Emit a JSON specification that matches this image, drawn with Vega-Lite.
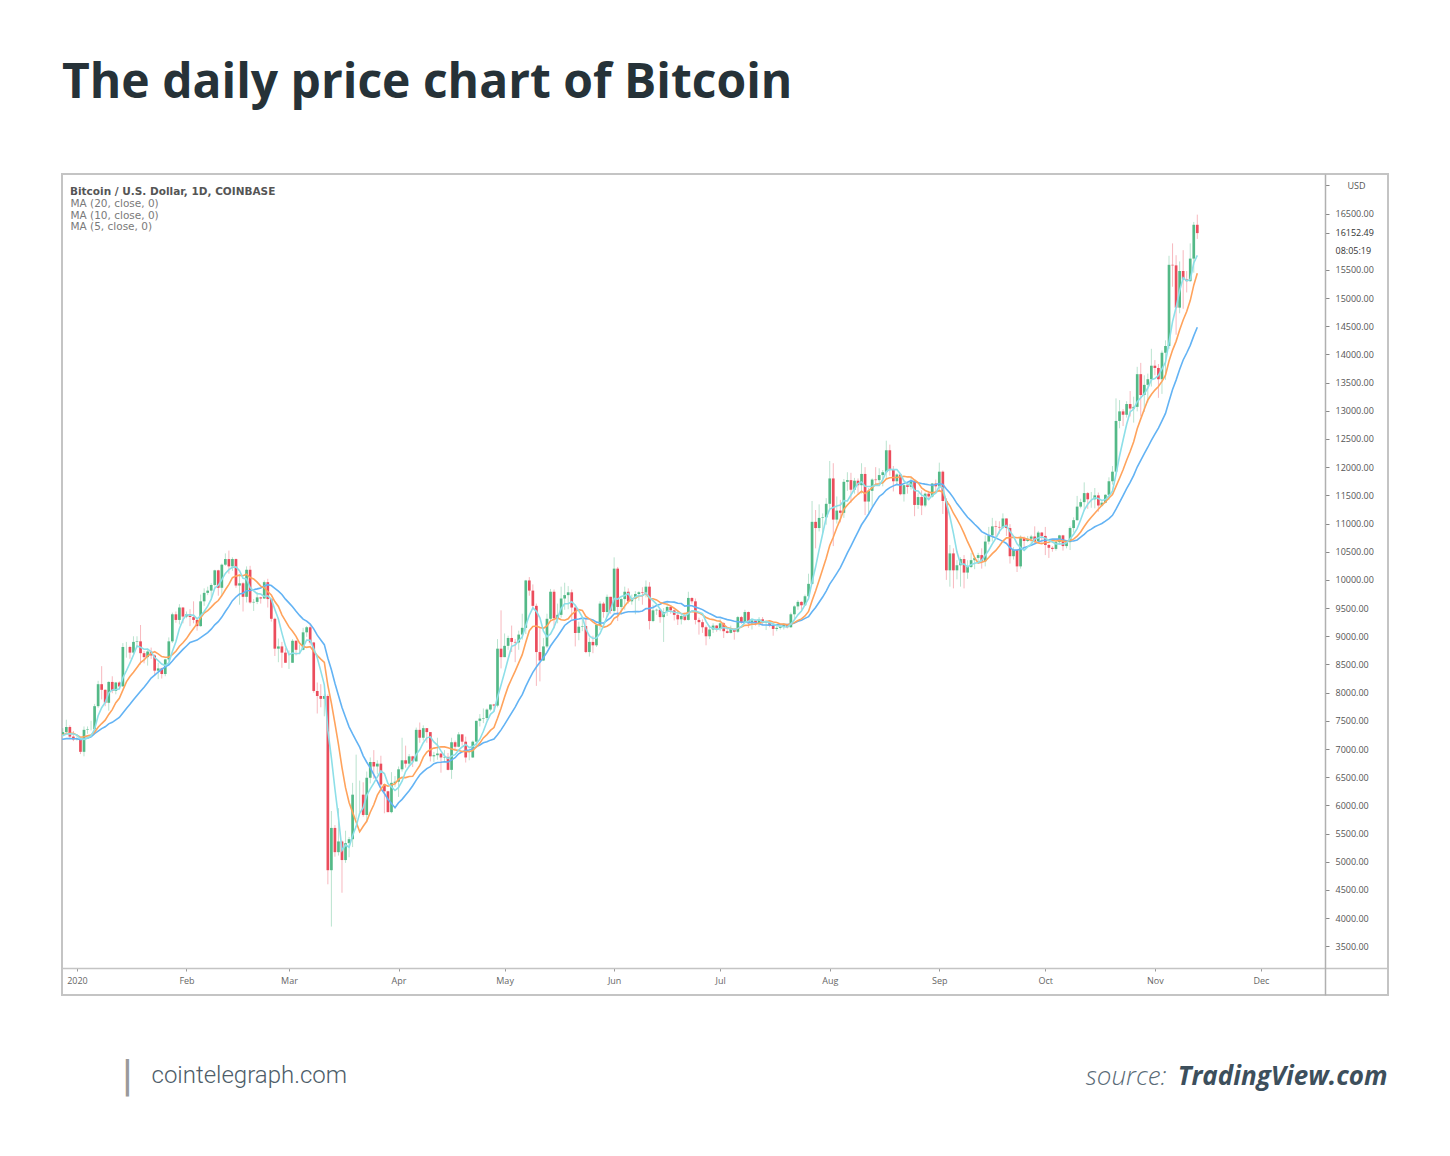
{
  "$schema": "https://vega.github.io/schema/vega-lite/v6.json",
  "autosize": {"type": "none"},
  "width": 1326,
  "height": 821,
  "padding": {"left": 62, "top": 174, "right": 62, "bottom": 161},
  "background": "white",
  "title": {"text": "The daily price chart of Bitcoin", "anchor": "start", "frame": "group", "font": "Open Sans", "fontSize": 48, "fontWeight": 700, "color": "#263238", "offset": 28, "baseline": "alphabetic"},
  "config": {
    "font": "Open Sans",
    "axis": {"grid": false},
    "view": {"stroke": "#c4c4c4", "strokeWidth": 2}
  },
  "data": {"values": [
{"d":"2019-12-10","o":7340,"h":7390,"l":7170,"c":7220},
{"d":"2019-12-11","o":7220,"h":7270,"l":7130,"c":7200},
{"d":"2019-12-12","o":7200,"h":7230,"l":7080,"c":7190},
{"d":"2019-12-13","o":7190,"h":7300,"l":7190,"c":7250},
{"d":"2019-12-14","o":7250,"h":7270,"l":7030,"c":7060},
{"d":"2019-12-15","o":7060,"h":7180,"l":7020,"c":7110},
{"d":"2019-12-16","o":7110,"h":7150,"l":6850,"c":6880},
{"d":"2019-12-17","o":6880,"h":6940,"l":6560,"c":6610},
{"d":"2019-12-18","o":6610,"h":7440,"l":6430,"c":7280},
{"d":"2019-12-19","o":7280,"h":7370,"l":7040,"c":7150},
{"d":"2019-12-20","o":7150,"h":7220,"l":7100,"c":7190},
{"d":"2019-12-21","o":7190,"h":7200,"l":7110,"c":7140},
{"d":"2019-12-22","o":7140,"h":7520,"l":7130,"c":7510},
{"d":"2019-12-23","o":7510,"h":7690,"l":7260,"c":7320},
{"d":"2019-12-24","o":7320,"h":7440,"l":7160,"c":7250},
{"d":"2019-12-25","o":7250,"h":7270,"l":7130,"c":7200},
{"d":"2019-12-26","o":7200,"h":7440,"l":7160,"c":7190},
{"d":"2019-12-27","o":7190,"h":7270,"l":7060,"c":7250},
{"d":"2019-12-28","o":7250,"h":7370,"l":7240,"c":7300},
{"d":"2019-12-29","o":7300,"h":7520,"l":7280,"c":7390},
{"d":"2019-12-30","o":7390,"h":7420,"l":7190,"c":7220},
{"d":"2019-12-31","o":7220,"h":7320,"l":7140,"c":7170},
{"d":"2020-01-01","o":7170,"h":7250,"l":7150,"c":7175},
{"d":"2020-01-02","o":7175,"h":7190,"l":6910,"c":6950},
{"d":"2020-01-03","o":6950,"h":7400,"l":6870,"c":7340},
{"d":"2020-01-04","o":7340,"h":7400,"l":7270,"c":7350},
{"d":"2020-01-05","o":7350,"h":7500,"l":7330,"c":7350},
{"d":"2020-01-06","o":7350,"h":7800,"l":7350,"c":7760},
{"d":"2020-01-07","o":7760,"h":8210,"l":7730,"c":8150},
{"d":"2020-01-08","o":8150,"h":8470,"l":7880,"c":8050},
{"d":"2020-01-09","o":8050,"h":8060,"l":7760,"c":7820},
{"d":"2020-01-10","o":7820,"h":8200,"l":7680,"c":8190},
{"d":"2020-01-11","o":8190,"h":8290,"l":7990,"c":8030},
{"d":"2020-01-12","o":8030,"h":8190,"l":7970,"c":8180},
{"d":"2020-01-13","o":8180,"h":8200,"l":8060,"c":8110},
{"d":"2020-01-14","o":8110,"h":8880,"l":8110,"c":8810},
{"d":"2020-01-15","o":8810,"h":8900,"l":8620,"c":8810},
{"d":"2020-01-16","o":8810,"h":8830,"l":8600,"c":8710},
{"d":"2020-01-17","o":8710,"h":9000,"l":8670,"c":8900},
{"d":"2020-01-18","o":8900,"h":9000,"l":8800,"c":8910},
{"d":"2020-01-19","o":8910,"h":9200,"l":8500,"c":8700},
{"d":"2020-01-20","o":8700,"h":8740,"l":8520,"c":8630},
{"d":"2020-01-21","o":8630,"h":8780,"l":8480,"c":8730},
{"d":"2020-01-22","o":8730,"h":8800,"l":8600,"c":8660},
{"d":"2020-01-23","o":8660,"h":8680,"l":8300,"c":8390},
{"d":"2020-01-24","o":8390,"h":8530,"l":8240,"c":8430},
{"d":"2020-01-25","o":8430,"h":8440,"l":8250,"c":8330},
{"d":"2020-01-26","o":8330,"h":8600,"l":8290,"c":8590},
{"d":"2020-01-27","o":8590,"h":8980,"l":8560,"c":8910},
{"d":"2020-01-28","o":8910,"h":9420,"l":8880,"c":9390},
{"d":"2020-01-29","o":9390,"h":9440,"l":9240,"c":9290},
{"d":"2020-01-30","o":9290,"h":9570,"l":9210,"c":9510},
{"d":"2020-01-31","o":9510,"h":9520,"l":9230,"c":9350},
{"d":"2020-02-01","o":9350,"h":9440,"l":9320,"c":9390},
{"d":"2020-02-02","o":9390,"h":9480,"l":9180,"c":9340},
{"d":"2020-02-03","o":9340,"h":9620,"l":9230,"c":9290},
{"d":"2020-02-04","o":9290,"h":9320,"l":9100,"c":9180},
{"d":"2020-02-05","o":9180,"h":9740,"l":9170,"c":9620},
{"d":"2020-02-06","o":9620,"h":9850,"l":9540,"c":9770},
{"d":"2020-02-07","o":9770,"h":9880,"l":9730,"c":9810},
{"d":"2020-02-08","o":9810,"h":9940,"l":9680,"c":9910},
{"d":"2020-02-09","o":9910,"h":10180,"l":9880,"c":10170},
{"d":"2020-02-10","o":10170,"h":10180,"l":9720,"c":9860},
{"d":"2020-02-11","o":9860,"h":10290,"l":9730,"c":10270},
{"d":"2020-02-12","o":10270,"h":10470,"l":10250,"c":10370},
{"d":"2020-02-13","o":10370,"h":10520,"l":10110,"c":10240},
{"d":"2020-02-14","o":10240,"h":10400,"l":10160,"c":10370},
{"d":"2020-02-15","o":10370,"h":10380,"l":9860,"c":9900},
{"d":"2020-02-16","o":9900,"h":10100,"l":9560,"c":9940},
{"d":"2020-02-17","o":9940,"h":9960,"l":9440,"c":9700},
{"d":"2020-02-18","o":9700,"h":10240,"l":9600,"c":10180},
{"d":"2020-02-19","o":10180,"h":10250,"l":9580,"c":9600},
{"d":"2020-02-20","o":9600,"h":9660,"l":9450,"c":9610},
{"d":"2020-02-21","o":9610,"h":9780,"l":9570,"c":9690},
{"d":"2020-02-22","o":9690,"h":9700,"l":9580,"c":9670},
{"d":"2020-02-23","o":9670,"h":9990,"l":9660,"c":9960},
{"d":"2020-02-24","o":9960,"h":10020,"l":9510,"c":9660},
{"d":"2020-02-25","o":9660,"h":9670,"l":9260,"c":9310},
{"d":"2020-02-26","o":9310,"h":9330,"l":8650,"c":8780},
{"d":"2020-02-27","o":8780,"h":8960,"l":8540,"c":8820},
{"d":"2020-02-28","o":8820,"h":8900,"l":8440,"c":8710},
{"d":"2020-02-29","o":8710,"h":8790,"l":8530,"c":8530},
{"d":"2020-03-01","o":8530,"h":8750,"l":8420,"c":8530},
{"d":"2020-03-02","o":8530,"h":8950,"l":8530,"c":8920},
{"d":"2020-03-03","o":8920,"h":8930,"l":8660,"c":8760},
{"d":"2020-03-04","o":8760,"h":8850,"l":8680,"c":8760},
{"d":"2020-03-05","o":8760,"h":9150,"l":8750,"c":9070},
{"d":"2020-03-06","o":9070,"h":9180,"l":8990,"c":9160},
{"d":"2020-03-07","o":9160,"h":9200,"l":8850,"c":8890},
{"d":"2020-03-08","o":8890,"h":8900,"l":8000,"c":8030},
{"d":"2020-03-09","o":8030,"h":8180,"l":7630,"c":7940},
{"d":"2020-03-10","o":7940,"h":8150,"l":7740,"c":7890},
{"d":"2020-03-11","o":7890,"h":7980,"l":7580,"c":7940},
{"d":"2020-03-12","o":7940,"h":7970,"l":4600,"c":4850},
{"d":"2020-03-13","o":4850,"h":5900,"l":3850,"c":5600},
{"d":"2020-03-14","o":5600,"h":5650,"l":5090,"c":5170},
{"d":"2020-03-15","o":5170,"h":5950,"l":5110,"c":5360},
{"d":"2020-03-16","o":5360,"h":5380,"l":4450,"c":5030},
{"d":"2020-03-17","o":5030,"h":5550,"l":4980,"c":5330},
{"d":"2020-03-18","o":5330,"h":5440,"l":5080,"c":5400},
{"d":"2020-03-19","o":5400,"h":6400,"l":5260,"c":6190},
{"d":"2020-03-20","o":6190,"h":6900,"l":5750,"c":6190},
{"d":"2020-03-21","o":6190,"h":6440,"l":5880,"c":6190},
{"d":"2020-03-22","o":6190,"h":6410,"l":5800,"c":5830},
{"d":"2020-03-23","o":5830,"h":6600,"l":5700,"c":6490},
{"d":"2020-03-24","o":6490,"h":6850,"l":6390,"c":6770},
{"d":"2020-03-25","o":6770,"h":6980,"l":6470,"c":6690},
{"d":"2020-03-26","o":6690,"h":6800,"l":6550,"c":6740},
{"d":"2020-03-27","o":6740,"h":6880,"l":6270,"c":6370},
{"d":"2020-03-28","o":6370,"h":6380,"l":5860,"c":6250},
{"d":"2020-03-29","o":6250,"h":6260,"l":5880,"c":5880},
{"d":"2020-03-30","o":5880,"h":6590,"l":5860,"c":6400},
{"d":"2020-03-31","o":6400,"h":6520,"l":6330,"c":6420},
{"d":"2020-04-01","o":6420,"h":6690,"l":6150,"c":6640},
{"d":"2020-04-02","o":6640,"h":7200,"l":6600,"c":6800},
{"d":"2020-04-03","o":6800,"h":7060,"l":6670,"c":6740},
{"d":"2020-04-04","o":6740,"h":6910,"l":6680,"c":6870},
{"d":"2020-04-05","o":6870,"h":6880,"l":6680,"c":6780},
{"d":"2020-04-06","o":6780,"h":7380,"l":6780,"c":7340},
{"d":"2020-04-07","o":7340,"h":7470,"l":7110,"c":7200},
{"d":"2020-04-08","o":7200,"h":7420,"l":7150,"c":7370},
{"d":"2020-04-09","o":7370,"h":7370,"l":7110,"c":7300},
{"d":"2020-04-10","o":7300,"h":7300,"l":6780,"c":6870},
{"d":"2020-04-11","o":6870,"h":6950,"l":6770,"c":6890},
{"d":"2020-04-12","o":6890,"h":7200,"l":6810,"c":6920},
{"d":"2020-04-13","o":6920,"h":6920,"l":6580,"c":6850},
{"d":"2020-04-14","o":6850,"h":6980,"l":6770,"c":6860},
{"d":"2020-04-15","o":6860,"h":6930,"l":6620,"c":6630},
{"d":"2020-04-16","o":6630,"h":7200,"l":6470,"c":7120},
{"d":"2020-04-17","o":7120,"h":7150,"l":6990,"c":7040},
{"d":"2020-04-18","o":7040,"h":7300,"l":7030,"c":7260},
{"d":"2020-04-19","o":7260,"h":7260,"l":7060,"c":7130},
{"d":"2020-04-20","o":7130,"h":7220,"l":6760,"c":6850},
{"d":"2020-04-21","o":6850,"h":6950,"l":6800,"c":6850},
{"d":"2020-04-22","o":6850,"h":7150,"l":6840,"c":7130},
{"d":"2020-04-23","o":7130,"h":7500,"l":7020,"c":7500},
{"d":"2020-04-24","o":7500,"h":7620,"l":7400,"c":7540},
{"d":"2020-04-25","o":7540,"h":7720,"l":7460,"c":7550},
{"d":"2020-04-26","o":7550,"h":7720,"l":7510,"c":7700},
{"d":"2020-04-27","o":7700,"h":7790,"l":7670,"c":7790},
{"d":"2020-04-28","o":7790,"h":7800,"l":7680,"c":7770},
{"d":"2020-04-29","o":7770,"h":8950,"l":7740,"c":8780},
{"d":"2020-04-30","o":8780,"h":9460,"l":8430,"c":8630},
{"d":"2020-05-01","o":8630,"h":9050,"l":8630,"c":8830},
{"d":"2020-05-02","o":8830,"h":9010,"l":8760,"c":8970},
{"d":"2020-05-03","o":8970,"h":9190,"l":8720,"c":8900},
{"d":"2020-05-04","o":8900,"h":8950,"l":8540,"c":8890},
{"d":"2020-05-05","o":8890,"h":9100,"l":8760,"c":9030},
{"d":"2020-05-06","o":9030,"h":9400,"l":8940,"c":9150},
{"d":"2020-05-07","o":9150,"h":10000,"l":9040,"c":9990},
{"d":"2020-05-08","o":9990,"h":10050,"l":9720,"c":9810},
{"d":"2020-05-09","o":9810,"h":9920,"l":9500,"c":9540},
{"d":"2020-05-10","o":9540,"h":9580,"l":8120,"c":8720},
{"d":"2020-05-11","o":8720,"h":9170,"l":8200,"c":8570},
{"d":"2020-05-12","o":8570,"h":8970,"l":8560,"c":8820},
{"d":"2020-05-13","o":8820,"h":9400,"l":8790,"c":9310},
{"d":"2020-05-14","o":9310,"h":9840,"l":9260,"c":9790},
{"d":"2020-05-15","o":9790,"h":9830,"l":9140,"c":9320},
{"d":"2020-05-16","o":9320,"h":9580,"l":9230,"c":9380},
{"d":"2020-05-17","o":9380,"h":9880,"l":9330,"c":9670},
{"d":"2020-05-18","o":9670,"h":9950,"l":9470,"c":9730},
{"d":"2020-05-19","o":9730,"h":9890,"l":9480,"c":9780},
{"d":"2020-05-20","o":9780,"h":9830,"l":9300,"c":9510},
{"d":"2020-05-21","o":9510,"h":9560,"l":8820,"c":9060},
{"d":"2020-05-22","o":9060,"h":9260,"l":8930,"c":9170},
{"d":"2020-05-23","o":9170,"h":9300,"l":9090,"c":9180},
{"d":"2020-05-24","o":9180,"h":9310,"l":8700,"c":8720},
{"d":"2020-05-25","o":8720,"h":8980,"l":8640,"c":8900},
{"d":"2020-05-26","o":8900,"h":9010,"l":8700,"c":8840},
{"d":"2020-05-27","o":8840,"h":9200,"l":8810,"c":9200},
{"d":"2020-05-28","o":9200,"h":9620,"l":9110,"c":9580},
{"d":"2020-05-29","o":9580,"h":9610,"l":9330,"c":9430},
{"d":"2020-05-30","o":9430,"h":9740,"l":9340,"c":9700},
{"d":"2020-05-31","o":9700,"h":9700,"l":9400,"c":9450},
{"d":"2020-06-01","o":9450,"h":10400,"l":9420,"c":10200},
{"d":"2020-06-02","o":10200,"h":10230,"l":9270,"c":9520},
{"d":"2020-06-03","o":9520,"h":9690,"l":9390,"c":9660},
{"d":"2020-06-04","o":9660,"h":9880,"l":9470,"c":9790},
{"d":"2020-06-05","o":9790,"h":9850,"l":9580,"c":9620},
{"d":"2020-06-06","o":9620,"h":9740,"l":9560,"c":9670},
{"d":"2020-06-07","o":9670,"h":9800,"l":9390,"c":9750},
{"d":"2020-06-08","o":9750,"h":9800,"l":9630,"c":9780},
{"d":"2020-06-09","o":9780,"h":9870,"l":9560,"c":9770},
{"d":"2020-06-10","o":9770,"h":9990,"l":9690,"c":9880},
{"d":"2020-06-11","o":9880,"h":9960,"l":9120,"c":9270},
{"d":"2020-06-12","o":9270,"h":9560,"l":9250,"c":9460},
{"d":"2020-06-13","o":9460,"h":9490,"l":9380,"c":9470},
{"d":"2020-06-14","o":9470,"h":9480,"l":9240,"c":9340},
{"d":"2020-06-15","o":9340,"h":9500,"l":8900,"c":9430},
{"d":"2020-06-16","o":9430,"h":9580,"l":9360,"c":9520},
{"d":"2020-06-17","o":9520,"h":9550,"l":9400,"c":9460},
{"d":"2020-06-18","o":9460,"h":9480,"l":9280,"c":9380},
{"d":"2020-06-19","o":9380,"h":9450,"l":9200,"c":9300},
{"d":"2020-06-20","o":9300,"h":9390,"l":9210,"c":9360},
{"d":"2020-06-21","o":9360,"h":9420,"l":9270,"c":9290},
{"d":"2020-06-22","o":9290,"h":9790,"l":9280,"c":9680},
{"d":"2020-06-23","o":9680,"h":9690,"l":9580,"c":9620},
{"d":"2020-06-24","o":9620,"h":9670,"l":9210,"c":9290},
{"d":"2020-06-25","o":9290,"h":9330,"l":9030,"c":9250},
{"d":"2020-06-26","o":9250,"h":9300,"l":9060,"c":9160},
{"d":"2020-06-27","o":9160,"h":9190,"l":8840,"c":9000},
{"d":"2020-06-28","o":9000,"h":9190,"l":8950,"c":9120},
{"d":"2020-06-29","o":9120,"h":9230,"l":9060,"c":9190},
{"d":"2020-06-30","o":9190,"h":9200,"l":9080,"c":9140},
{"d":"2020-07-01","o":9140,"h":9300,"l":9090,"c":9230},
{"d":"2020-07-02","o":9230,"h":9250,"l":8970,"c":9090},
{"d":"2020-07-03","o":9090,"h":9130,"l":9050,"c":9060},
{"d":"2020-07-04","o":9060,"h":9190,"l":9050,"c":9130},
{"d":"2020-07-05","o":9130,"h":9140,"l":8940,"c":9080},
{"d":"2020-07-06","o":9080,"h":9360,"l":9060,"c":9340},
{"d":"2020-07-07","o":9340,"h":9360,"l":9220,"c":9250},
{"d":"2020-07-08","o":9250,"h":9470,"l":9240,"c":9430},
{"d":"2020-07-09","o":9430,"h":9440,"l":9150,"c":9230},
{"d":"2020-07-10","o":9230,"h":9310,"l":9120,"c":9280},
{"d":"2020-07-11","o":9280,"h":9300,"l":9190,"c":9230},
{"d":"2020-07-12","o":9230,"h":9340,"l":9170,"c":9300},
{"d":"2020-07-13","o":9300,"h":9340,"l":9220,"c":9240},
{"d":"2020-07-14","o":9240,"h":9280,"l":9110,"c":9250},
{"d":"2020-07-15","o":9250,"h":9270,"l":9160,"c":9190},
{"d":"2020-07-16","o":9190,"h":9210,"l":9010,"c":9130},
{"d":"2020-07-17","o":9130,"h":9180,"l":9090,"c":9150},
{"d":"2020-07-18","o":9150,"h":9190,"l":9120,"c":9170},
{"d":"2020-07-19","o":9170,"h":9230,"l":9120,"c":9210},
{"d":"2020-07-20","o":9210,"h":9220,"l":9140,"c":9160},
{"d":"2020-07-21","o":9160,"h":9420,"l":9150,"c":9390},
{"d":"2020-07-22","o":9390,"h":9550,"l":9280,"c":9530},
{"d":"2020-07-23","o":9530,"h":9640,"l":9470,"c":9610},
{"d":"2020-07-24","o":9610,"h":9620,"l":9470,"c":9550},
{"d":"2020-07-25","o":9550,"h":9740,"l":9540,"c":9710},
{"d":"2020-07-26","o":9710,"h":10110,"l":9660,"c":9930},
{"d":"2020-07-27","o":9930,"h":11400,"l":9920,"c":11030},
{"d":"2020-07-28","o":11030,"h":11240,"l":10560,"c":10920},
{"d":"2020-07-29","o":10920,"h":11340,"l":10860,"c":11100},
{"d":"2020-07-30","o":11100,"h":11180,"l":10830,"c":11110},
{"d":"2020-07-31","o":11110,"h":11450,"l":10980,"c":11350},
{"d":"2020-08-01","o":11350,"h":12110,"l":11230,"c":11800},
{"d":"2020-08-02","o":11800,"h":12070,"l":10600,"c":11070},
{"d":"2020-08-03","o":11070,"h":11480,"l":11000,"c":11230},
{"d":"2020-08-04","o":11230,"h":11420,"l":11020,"c":11190},
{"d":"2020-08-05","o":11190,"h":11790,"l":11100,"c":11740},
{"d":"2020-08-06","o":11740,"h":11910,"l":11580,"c":11770},
{"d":"2020-08-07","o":11770,"h":11900,"l":11370,"c":11600},
{"d":"2020-08-08","o":11600,"h":11810,"l":11530,"c":11760},
{"d":"2020-08-09","o":11760,"h":11800,"l":11530,"c":11680},
{"d":"2020-08-10","o":11680,"h":12070,"l":11530,"c":11880},
{"d":"2020-08-11","o":11880,"h":12000,"l":11150,"c":11390},
{"d":"2020-08-12","o":11390,"h":11630,"l":11160,"c":11580},
{"d":"2020-08-13","o":11580,"h":11800,"l":11300,"c":11780},
{"d":"2020-08-14","o":11780,"h":12000,"l":11670,"c":11770},
{"d":"2020-08-15","o":11770,"h":11980,"l":11700,"c":11860},
{"d":"2020-08-16","o":11860,"h":11950,"l":11660,"c":11910},
{"d":"2020-08-17","o":11910,"h":12470,"l":11790,"c":12300},
{"d":"2020-08-18","o":12300,"h":12400,"l":11850,"c":11960},
{"d":"2020-08-19","o":11960,"h":12020,"l":11570,"c":11750},
{"d":"2020-08-20","o":11750,"h":11890,"l":11680,"c":11870},
{"d":"2020-08-21","o":11870,"h":11880,"l":11500,"c":11520},
{"d":"2020-08-22","o":11520,"h":11690,"l":11390,"c":11680},
{"d":"2020-08-23","o":11680,"h":11710,"l":11530,"c":11650},
{"d":"2020-08-24","o":11650,"h":11820,"l":11600,"c":11750},
{"d":"2020-08-25","o":11750,"h":11770,"l":11130,"c":11330},
{"d":"2020-08-26","o":11330,"h":11540,"l":11260,"c":11470},
{"d":"2020-08-27","o":11470,"h":11590,"l":11150,"c":11320},
{"d":"2020-08-28","o":11320,"h":11550,"l":11290,"c":11530},
{"d":"2020-08-29","o":11530,"h":11580,"l":11450,"c":11480},
{"d":"2020-08-30","o":11480,"h":11720,"l":11460,"c":11710},
{"d":"2020-08-31","o":11710,"h":11780,"l":11540,"c":11660},
{"d":"2020-09-01","o":11660,"h":12080,"l":11570,"c":11920},
{"d":"2020-09-02","o":11920,"h":11940,"l":11170,"c":11400},
{"d":"2020-09-03","o":11400,"h":11450,"l":10000,"c":10170},
{"d":"2020-09-04","o":10170,"h":10620,"l":9880,"c":10470},
{"d":"2020-09-05","o":10470,"h":10560,"l":9850,"c":10170},
{"d":"2020-09-06","o":10170,"h":10350,"l":10010,"c":10260},
{"d":"2020-09-07","o":10260,"h":10400,"l":9880,"c":10370},
{"d":"2020-09-08","o":10370,"h":10440,"l":9850,"c":10130},
{"d":"2020-09-09","o":10130,"h":10350,"l":10020,"c":10230},
{"d":"2020-09-10","o":10230,"h":10480,"l":10210,"c":10350},
{"d":"2020-09-11","o":10350,"h":10390,"l":10190,"c":10390},
{"d":"2020-09-12","o":10390,"h":10480,"l":10300,"c":10440},
{"d":"2020-09-13","o":10440,"h":10560,"l":10200,"c":10330},
{"d":"2020-09-14","o":10330,"h":10790,"l":10240,"c":10680},
{"d":"2020-09-15","o":10680,"h":10940,"l":10630,"c":10790},
{"d":"2020-09-16","o":10790,"h":11100,"l":10680,"c":10950},
{"d":"2020-09-17","o":10950,"h":11050,"l":10760,"c":10940},
{"d":"2020-09-18","o":10940,"h":11040,"l":10820,"c":10930},
{"d":"2020-09-19","o":10930,"h":11180,"l":10900,"c":11090},
{"d":"2020-09-20","o":11090,"h":11090,"l":10780,"c":10920},
{"d":"2020-09-21","o":10920,"h":10990,"l":10290,"c":10420},
{"d":"2020-09-22","o":10420,"h":10580,"l":10360,"c":10530},
{"d":"2020-09-23","o":10530,"h":10540,"l":10140,"c":10240},
{"d":"2020-09-24","o":10240,"h":10790,"l":10200,"c":10740},
{"d":"2020-09-25","o":10740,"h":10770,"l":10570,"c":10690},
{"d":"2020-09-26","o":10690,"h":10780,"l":10670,"c":10730},
{"d":"2020-09-27","o":10730,"h":10800,"l":10610,"c":10770},
{"d":"2020-09-28","o":10770,"h":10950,"l":10650,"c":10690},
{"d":"2020-09-29","o":10690,"h":10870,"l":10650,"c":10840},
{"d":"2020-09-30","o":10840,"h":10850,"l":10650,"c":10780},
{"d":"2020-10-01","o":10780,"h":10940,"l":10440,"c":10620},
{"d":"2020-10-02","o":10620,"h":10640,"l":10390,"c":10570},
{"d":"2020-10-03","o":10570,"h":10600,"l":10500,"c":10550},
{"d":"2020-10-04","o":10550,"h":10690,"l":10520,"c":10670},
{"d":"2020-10-05","o":10670,"h":10800,"l":10620,"c":10790},
{"d":"2020-10-06","o":10790,"h":10800,"l":10520,"c":10600},
{"d":"2020-10-07","o":10600,"h":10690,"l":10560,"c":10670},
{"d":"2020-10-08","o":10670,"h":10950,"l":10530,"c":10920},
{"d":"2020-10-09","o":10920,"h":11110,"l":10840,"c":11060},
{"d":"2020-10-10","o":11060,"h":11490,"l":11050,"c":11300},
{"d":"2020-10-11","o":11300,"h":11440,"l":11270,"c":11380},
{"d":"2020-10-12","o":11380,"h":11730,"l":11220,"c":11540},
{"d":"2020-10-13","o":11540,"h":11560,"l":11260,"c":11430},
{"d":"2020-10-14","o":11430,"h":11560,"l":11280,"c":11430},
{"d":"2020-10-15","o":11430,"h":11630,"l":11270,"c":11500},
{"d":"2020-10-16","o":11500,"h":11550,"l":11210,"c":11320},
{"d":"2020-10-17","o":11320,"h":11410,"l":11300,"c":11370},
{"d":"2020-10-18","o":11370,"h":11520,"l":11360,"c":11510},
{"d":"2020-10-19","o":11510,"h":11820,"l":11420,"c":11750},
{"d":"2020-10-20","o":11750,"h":12020,"l":11690,"c":11920},
{"d":"2020-10-21","o":11920,"h":13220,"l":11900,"c":12820},
{"d":"2020-10-22","o":12820,"h":13190,"l":12690,"c":12990},
{"d":"2020-10-23","o":12990,"h":13030,"l":12730,"c":12930},
{"d":"2020-10-24","o":12930,"h":13170,"l":12880,"c":13120},
{"d":"2020-10-25","o":13120,"h":13350,"l":12900,"c":13040},
{"d":"2020-10-26","o":13040,"h":13250,"l":12790,"c":13070},
{"d":"2020-10-27","o":13070,"h":13780,"l":12990,"c":13650},
{"d":"2020-10-28","o":13650,"h":13850,"l":12900,"c":13280},
{"d":"2020-10-29","o":13280,"h":13630,"l":12980,"c":13460},
{"d":"2020-10-30","o":13460,"h":13660,"l":13150,"c":13560},
{"d":"2020-10-31","o":13560,"h":14100,"l":13430,"c":13800},
{"d":"2020-11-01","o":13800,"h":13900,"l":13630,"c":13760},
{"d":"2020-11-02","o":13760,"h":13830,"l":13230,"c":13560},
{"d":"2020-11-03","o":13560,"h":14070,"l":13300,"c":14030},
{"d":"2020-11-04","o":14030,"h":14250,"l":13550,"c":14150},
{"d":"2020-11-05","o":14150,"h":15750,"l":14100,"c":15590},
{"d":"2020-11-06","o":15590,"h":15970,"l":15200,"c":15580},
{"d":"2020-11-07","o":15580,"h":15760,"l":14350,"c":14830},
{"d":"2020-11-08","o":14830,"h":15650,"l":14730,"c":15480},
{"d":"2020-11-09","o":15480,"h":15850,"l":14810,"c":15330},
{"d":"2020-11-10","o":15330,"h":15480,"l":15100,"c":15300},
{"d":"2020-11-11","o":15300,"h":15970,"l":15290,"c":15700},
{"d":"2020-11-12","o":15700,"h":16350,"l":15450,"c":16300},
{"d":"2020-11-13","o":16300,"h":16480,"l":16050,"c":16152.49}
  ]},
  "resolve": {"axis": {"x": "independent", "y": "independent"}},
  "layer": [
    {
      "mark": {"type": "rule", "clip": true, "strokeWidth": 1, "opacity": 0.4},
      "encoding": {
        "x": {
          "field": "d", "type": "temporal",
          "scale": {"type": "utc", "domain": [{"year": 2019, "month": 12, "date": 29, "hours": 4, "minutes": 36, "utc": true}, {"year": 2021, "month": 1, "date": 4, "hours": 13, "utc": true}]},
          "axis": {
            "orient": "bottom", "offset": -27,
            "values": [
              {"year": 2020, "month": 1, "date": 1, "utc": true},
              {"year": 2020, "month": 2, "date": 1, "utc": true},
              {"year": 2020, "month": 3, "date": 1, "utc": true},
              {"year": 2020, "month": 4, "date": 1, "utc": true},
              {"year": 2020, "month": 5, "date": 1, "utc": true},
              {"year": 2020, "month": 6, "date": 1, "utc": true},
              {"year": 2020, "month": 7, "date": 1, "utc": true},
              {"year": 2020, "month": 8, "date": 1, "utc": true},
              {"year": 2020, "month": 9, "date": 1, "utc": true},
              {"year": 2020, "month": 10, "date": 1, "utc": true},
              {"year": 2020, "month": 11, "date": 1, "utc": true},
              {"year": 2020, "month": 12, "date": 1, "utc": true}
            ],
            "labelExpr": "utcmonth(datum.value) == 0 ? '2020' : utcFormat(datum.value, '%b')",
            "labelFlush": false, "labelOverlap": false,
            "labelFont": "Open Sans", "labelFontSize": 9, "labelColor": "#666666", "labelPadding": 5,
            "tickSize": 3, "tickColor": "#999999",
            "domainColor": "#c4c4c4", "domainWidth": 1.5,
            "title": "cointelegraph.com",
            "titleFont": "Roboto", "titleFontSize": 24, "titleFontWeight": 300, "titleColor": "#4e5d69",
            "titleX": 89, "titleY": 114, "titleAlign": "left", "titleBaseline": "alphabetic", "titleAngle": 0, "titleLimit": 1000
          }
        },
        "y": {
          "field": "l", "type": "quantitative",
          "scale": {"domain": [2636, 17201], "nice": false, "zero": false},
          "axis": {
            "orient": "right", "offset": -63,
            "values": [3500, 4000, 4500, 5000, 5500, 6000, 6500, 7000, 7500, 8000, 8500, 9000, 9500, 10000, 10500, 11000, 11500, 12000, 12500, 13000, 13500, 14000, 14500, 15000, 15500, 16500, 17000, 16152.49],
            "labelExpr": "datum.value == 17000 ? 'USD' : (datum.value > 16152 && datum.value < 16153) ? ['16152.49', '08:05:19'] : format(datum.value, '.2f')",
            "labelOverlap": false, "labelFlush": false,
            "labelFont": "Open Sans", "labelFontSize": 9, "labelLineHeight": 18,
            "labelPadding": {"condition": {"test": "datum.value == 17000", "value": 18}, "value": 6},
            "labelBaseline": {"condition": {"test": "datum.value > 16152 && datum.value < 16153", "value": "top"}, "value": "middle"},
            "labelOffset": {"condition": {"test": "datum.value > 16152 && datum.value < 16153", "value": -5}, "value": 0},
            "labelColor": {"condition": {"test": "datum.value > 16152 && datum.value < 16153", "value": "#333333"}, "value": "#555555"},
            "tickSize": 4, "tickColor": "#888888",
            "domainColor": "#b0b0b0", "domainWidth": 1.5,
            "title": "|",
            "titleFont": "DejaVu Sans", "titleFontSize": 38, "titleFontWeight": "normal", "titleColor": "#9a9a9a",
            "titleX": -1198, "titleY": 912, "titleAlign": "center", "titleBaseline": "alphabetic", "titleAngle": 0, "titleLimit": 1000
          }
        },
        "y2": {"field": "h"},
        "color": {"condition": {"test": "datum.c >= datum.o", "value": "#53b987"}, "value": "#eb4d5c"}
      }
    },
    {
      "mark": {"type": "bar", "clip": true, "width": 2.7},
      "encoding": {
        "x": {
          "field": "d", "type": "temporal",
          "scale": {"type": "utc", "domain": [{"year": 2019, "month": 12, "date": 29, "hours": 4, "minutes": 36, "utc": true}, {"year": 2021, "month": 1, "date": 4, "hours": 13, "utc": true}]},
          "axis": {
            "orient": "top", "labels": false, "ticks": false, "domain": false,
            "title": "TradingView.com",
            "titleFont": "Open Sans", "titleFontSize": 26, "titleFontWeight": "bold", "titleFontStyle": "italic", "titleColor": "#3d4f5c",
            "titleX": 1325, "titleY": 910, "titleAlign": "right", "titleBaseline": "alphabetic", "titleAngle": 0, "titleLimit": 1000
          }
        },
        "y": {
          "field": "o", "type": "quantitative",
          "scale": {"domain": [2636, 17201], "nice": false, "zero": false},
          "axis": {
            "orient": "left", "labels": false, "ticks": false, "domain": false,
            "title": "source:",
            "titleFont": "Open Sans", "titleFontSize": 26, "titleFontWeight": 300, "titleFontStyle": "italic", "titleColor": "#5a6b77",
            "titleX": 1104, "titleY": 910, "titleAlign": "right", "titleBaseline": "alphabetic", "titleAngle": 0, "titleLimit": 1000
          }
        },
        "y2": {"field": "c"},
        "color": {"condition": {"test": "datum.c >= datum.o", "value": "#53b987"}, "value": "#eb4d5c"}
      }
    },
    {
      "transform": [
        {"window": [{"op": "mean", "field": "c", "as": "ma20"}], "frame": [-19, 0], "sort": [{"field": "d"}]},
        {"window": [{"op": "mean", "field": "c", "as": "ma10"}], "frame": [-9, 0], "sort": [{"field": "d"}]},
        {"window": [{"op": "mean", "field": "c", "as": "ma5"}], "frame": [-4, 0], "sort": [{"field": "d"}]},
        {"fold": ["ma20", "ma10", "ma5"], "as": ["k", "v"]}
      ],
      "mark": {"type": "line", "clip": true, "strokeWidth": 1.6},
      "encoding": {
        "x": {
          "field": "d", "type": "temporal",
          "scale": {"type": "utc", "domain": [{"year": 2019, "month": 12, "date": 29, "hours": 4, "minutes": 36, "utc": true}, {"year": 2021, "month": 1, "date": 4, "hours": 13, "utc": true}]},
          "axis": null
        },
        "y": {
          "field": "v", "type": "quantitative",
          "scale": {"domain": [2636, 17201], "nice": false, "zero": false},
          "axis": null
        },
        "color": {
          "field": "k", "type": "nominal",
          "scale": {"domain": ["ma20", "ma10", "ma5"], "range": ["#63b3f4", "#ffa35c", "#8ddfe8"]},
          "legend": {
            "orient": "none", "legendX": 8, "legendY": 13, "padding": 0,
            "title": "Bitcoin / U.S. Dollar, 1D, COINBASE", "titleLimit": 500,
            "titleFont": "DejaVu Sans", "titleFontSize": 10.5, "titleFontWeight": "bold", "titleColor": "#555555", "titlePadding": 1.5,
            "labelFont": "DejaVu Sans", "labelFontSize": 10.5, "labelColor": "#7a7a7a", "labelOffset": -10, "labelLimit": 500,
            "labelExpr": "datum.label == 'ma20' ? 'MA (20, close, 0)' : datum.label == 'ma10' ? 'MA (10, close, 0)' : 'MA (5, close, 0)'",
            "symbolSize": 0.01, "symbolOpacity": 0, "symbolStrokeWidth": 0, "rowPadding": 0.5
          }
        }
      }
    }
  ]
}
